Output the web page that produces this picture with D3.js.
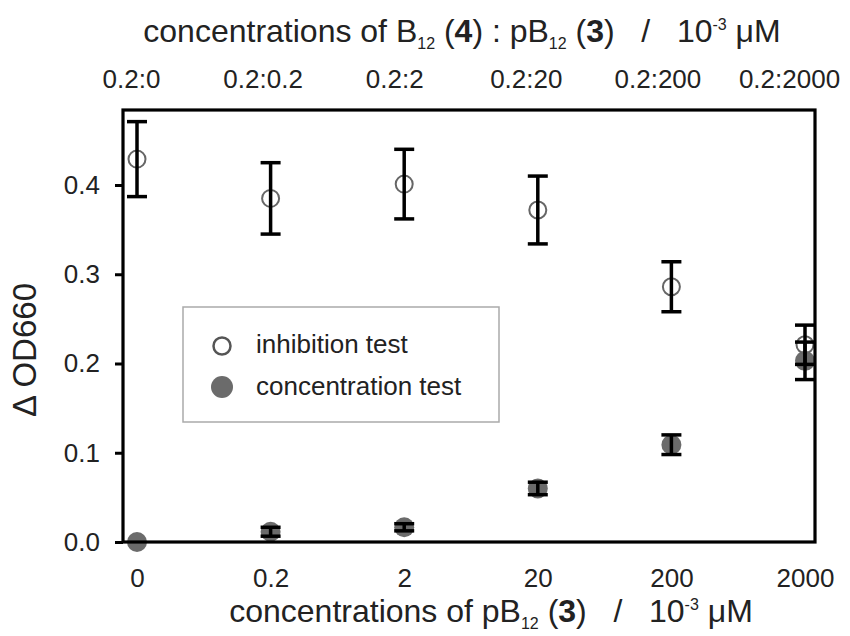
<!DOCTYPE html>
<html>
<head>
<meta charset="utf-8">
<script src="https://cdn.jsdelivr.net/npm/d3@7"></script>
<style>
  body { margin: 0; background: #fff; }
  svg text { font-family: "Liberation Sans", Arial, sans-serif; fill: #222; }
</style>
</head>
<body>
<div id="chart"></div>
<script>
// data
var categories = ["0", "0.2", "2", "20", "200", "2000"];
var topLabels = ["0.2:0", "0.2:0.2", "0.2:2", "0.2:20", "0.2:200", "0.2:2000"];
var yTicks = [0, 0.1, 0.2, 0.3, 0.4];
var inhibitionMean = [0.429, 0.385, 0.401, 0.372, 0.286, 0.221];
var inhibitionErr = [0.042, 0.040, 0.039, 0.038, 0.028, 0.022];
var concentrationMean = [0.0, 0.0115, 0.0165, 0.060, 0.109, 0.203];
var concentrationErr = [0, 0.005, 0.004, 0.007, 0.011, 0.021];

var width = 850, height = 636;
var frame = {left: 123, right: 815, top: 110, bottom: 542};

var svg = d3.select("#chart")
  .append("svg")
    .attr("width", width)
    .attr("height", height);

var xScale = d3.scalePoint().domain(categories).range([137, 805]);
var xTop = d3.scalePoint().domain(topLabels).range([131, 789]);
var yScale = d3.scaleLinear().domain([0, 0.4]).range([frame.bottom, 185]);

var inhibition = categories.map(function (c, i) {
  return {cat: c, mean: inhibitionMean[i], err: inhibitionErr[i]};
});
var concentration = categories.map(function (c, i) {
  return {cat: c, mean: concentrationMean[i], err: concentrationErr[i]};
});

// concentration test: filled grey dots
svg.append("g").selectAll("circle")
  .data(concentration)
  .enter()
  .append("circle")
    .attr("cx", function (d) { return xScale(d.cat) })
    .attr("cy", function (d) { return yScale(d.mean) })
    .attr("r", 10)
    .style("fill", "#6b6b6b");

// inhibition test: open circles
svg.append("g").selectAll("circle")
  .data(inhibition)
  .enter()
  .append("circle")
    .attr("cx", function (d) { return xScale(d.cat) })
    .attr("cy", function (d) { return yScale(d.mean) })
    .attr("r", 8.5)
    .style("fill", "none")
    .style("stroke", "#666")
    .style("stroke-width", 2);

// error bars on top of the markers
function errorBars(data) {
  var g = svg.append("g")
    .style("stroke", "#000")
    .style("stroke-width", 3.5)
    .style("fill", "none");
  var bars = g.selectAll("g")
    .data(data.filter(function (d) { return d.err > 0 }))
    .enter()
    .append("g");
  bars.append("line")
    .attr("x1", function (d) { return xScale(d.cat) })
    .attr("x2", function (d) { return xScale(d.cat) })
    .attr("y1", function (d) { return yScale(d.mean - d.err) })
    .attr("y2", function (d) { return yScale(d.mean + d.err) });
  [-1, 1].forEach(function (s) {
    bars.append("line")
      .attr("x1", function (d) { return xScale(d.cat) - 10 })
      .attr("x2", function (d) { return xScale(d.cat) + 10 })
      .attr("y1", function (d) { return yScale(d.mean + s * d.err) })
      .attr("y2", function (d) { return yScale(d.mean + s * d.err) });
  });
}
errorBars(concentration);
errorBars(inhibition);

// frame
svg.append("rect")
  .attr("x", frame.left)
  .attr("y", frame.top)
  .attr("width", frame.right - frame.left)
  .attr("height", frame.bottom - frame.top)
  .style("fill", "none")
  .style("stroke", "#000")
  .style("stroke-width", 3.2);

// left axis
var yAxis = svg.append("g")
  .attr("transform", "translate(" + frame.left + ",0)")
  .call(d3.axisLeft(yScale).tickValues(yTicks).tickFormat(d3.format(".1f"))
    .tickSize(8).tickPadding(15));
yAxis.select(".domain").remove();
yAxis.selectAll("line").style("stroke", "#000").style("stroke-width", 3);
yAxis.selectAll("text").style("font-size", "26px").style("font-family", null).attr("fill", "#222");

// bottom axis
var xAxis = svg.append("g")
  .attr("transform", "translate(0," + frame.bottom + ")")
  .call(d3.axisBottom(xScale).tickSize(0).tickPadding(27));
xAxis.select(".domain").remove();
xAxis.selectAll("text").style("font-size", "26px").style("font-family", null).attr("fill", "#222");

// top axis
var tAxis = svg.append("g")
  .attr("transform", "translate(0," + frame.top + ")")
  .call(d3.axisTop(xTop).tickSize(0).tickPadding(22));
tAxis.select(".domain").remove();
tAxis.selectAll("text").style("font-size", "26px").style("font-family", null).attr("fill", "#222");

// titles with sub/superscripts
function richText(x, y, parts, size) {
  var t = svg.append("text")
    .attr("x", x)
    .attr("y", y)
    .attr("text-anchor", "middle")
    .style("font-size", size + "px");
  var shift = 0;
  parts.forEach(function (p) {
    var target = p.sub ? 7 : p.sup ? -12 : 0;
    var span = t.append("tspan")
      .attr("dy", target - shift)
      .style("font-size", (p.sub || p.sup ? size * 0.5 : size) + "px")
      .text(p.t);
    if (p.bold) span.style("font-weight", "bold");
    shift = target;
  });
  return t;
}

richText(462, 42, [
  {t: "concentrations of B"}, {t: "12", sub: true}, {t: " ("}, {t: "4", bold: true},
  {t: ") : pB"}, {t: "12", sub: true}, {t: " ("}, {t: "3", bold: true},
  {t: ")\u00a0\u00a0 /\u00a0\u00a0 10"}, {t: "-3", sup: true}, {t: " \u03bcM"}
], 32);

richText(491, 622, [
  {t: "concentrations of pB"}, {t: "12", sub: true}, {t: " ("}, {t: "3", bold: true},
  {t: ")\u00a0\u00a0 /\u00a0\u00a0 10"}, {t: "-3", sup: true}, {t: " \u03bcM"}
], 32);

// y label
svg.append("text")
  .attr("transform", "rotate(-90)")
  .attr("x", -350)
  .attr("y", 36)
  .attr("text-anchor", "middle")
  .style("font-size", "33px")
  .text("\u0394 OD660");

// legend
var legend = svg.append("g");
legend.append("rect")
  .attr("x", 183)
  .attr("y", 307)
  .attr("width", 316)
  .attr("height", 115)
  .style("fill", "#fff")
  .style("stroke", "#aaa")
  .style("stroke-width", 1.5);
legend.append("circle")
  .attr("cx", 222).attr("cy", 346).attr("r", 8.5)
  .style("fill", "none").style("stroke", "#555").style("stroke-width", 2.5);
legend.append("circle")
  .attr("cx", 222).attr("cy", 387).attr("r", 11)
  .style("fill", "#6b6b6b");
legend.append("text")
  .attr("x", 256).attr("y", 353)
  .style("font-size", "26px")
  .text("inhibition test");
legend.append("text")
  .attr("x", 256).attr("y", 395)
  .style("font-size", "26px")
  .text("concentration test");
</script>
</body>
</html>
